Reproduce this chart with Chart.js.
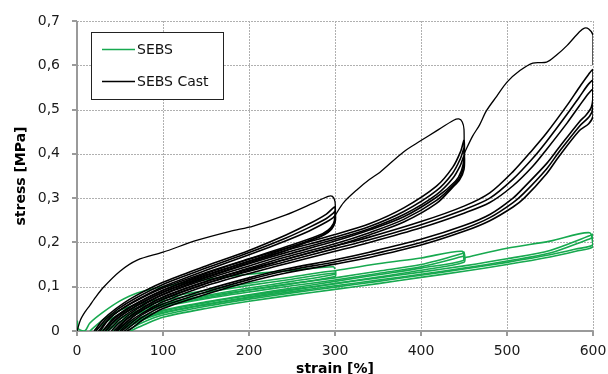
<!DOCTYPE html>
<html>
<head>
<meta charset="utf-8">
<script src="https://cdn.jsdelivr.net/npm/chart.js@4.4.1/dist/chart.umd.min.js"></script>
<style>
    html, body { margin: 0; padding: 0; background: #fff; }
    #wrap { width: 608px; height: 374px; }
</style>
</head>
<body>
<div id="wrap"><canvas id="chart-area" width="608" height="374"></canvas></div>
<script>
// strain [%], stress [MPa]
var xTicks = [0, 100, 200, 300, 400, 500, 600];
var yTicks = [0, 0.1, 0.2, 0.3, 0.4, 0.5, 0.6, 0.7];
var yTickLabels = ['0', '0,1', '0,2', '0,3', '0,4', '0,5', '0,6', '0,7'];
var seriesNames = ['SEBS', 'SEBS Cast'];

// SEBS Cast: first loadings up to 300, 450, 600 %
var castFirst300 = [[0, 0], [4, 0.025], [10, 0.045], [15, 0.058], [20, 0.072], [30, 0.097], [50, 0.135], [70, 0.16], [100, 0.178], [140, 0.205], [178, 0.225], [205, 0.237], [243, 0.262], [274, 0.288], [292, 0.304], [297, 0.304], [300, 0.292], [300.5, 0.255]];
var castFirst450 = [[300.5, 0.262], [310, 0.29], [325, 0.318], [340, 0.342], [352, 0.358], [380, 0.405], [400, 0.43], [418, 0.452], [438, 0.476], [444, 0.479], [448, 0.472], [450, 0.455], [450, 0.40]];
var castFirst600 = [[450, 0.40], [460, 0.44], [468, 0.465], [476, 0.497], [488, 0.53], [500, 0.562], [515, 0.588], [530, 0.605], [546, 0.607], [557, 0.622], [570, 0.645], [584, 0.675], [590, 0.684], [595, 0.682], [600, 0.668], [600, 0.6]];

// SEBS Cast: cycles (reload then unload)
var castLoop300a = [[20, 0], [30, 0.025], [45, 0.05], [65, 0.076], [100, 0.11], [150, 0.147], [200, 0.182], [243, 0.217], [270, 0.242], [290, 0.264], [298, 0.278], [300, 0.28], [300, 0.258], [298, 0.242], [292, 0.228], [280, 0.215], [243, 0.19], [200, 0.163], [150, 0.132], [100, 0.097], [65, 0.064], [40, 0.033], [27, 0]];
var castLoop300b = [[22, 0], [33, 0.025], [48, 0.05], [68, 0.074], [100, 0.105], [150, 0.142], [200, 0.177], [243, 0.21], [270, 0.234], [290, 0.254], [298, 0.266], [300, 0.27], [300, 0.25], [297, 0.235], [290, 0.222], [278, 0.21], [243, 0.186], [200, 0.158], [150, 0.127], [100, 0.092], [65, 0.058], [42, 0.028], [30, 0]];
var castLoop300c = [[25, 0], [36, 0.025], [52, 0.05], [72, 0.073], [100, 0.1], [150, 0.137], [200, 0.172], [243, 0.204], [270, 0.226], [290, 0.246], [298, 0.256], [300, 0.26], [300, 0.245], [296, 0.23], [288, 0.218], [275, 0.207], [243, 0.182], [200, 0.154], [150, 0.122], [100, 0.087], [68, 0.055], [45, 0.025], [33, 0]];
var castLoop450a = [[30, 0], [45, 0.03], [65, 0.057], [100, 0.092], [150, 0.13], [200, 0.162], [243, 0.187], [300, 0.218], [340, 0.242], [380, 0.278], [418, 0.327], [437, 0.37], [446, 0.405], [450, 0.43], [450, 0.39], [447, 0.362], [440, 0.338], [418, 0.302], [380, 0.258], [340, 0.228], [300, 0.203], [243, 0.172], [200, 0.147], [150, 0.117], [100, 0.082], [70, 0.05], [50, 0.02], [40, 0]];
var castLoop450b = [[33, 0], [48, 0.03], [68, 0.056], [100, 0.088], [150, 0.125], [200, 0.157], [243, 0.182], [300, 0.212], [340, 0.236], [380, 0.27], [418, 0.317], [437, 0.357], [446, 0.39], [450, 0.412], [450, 0.378], [446, 0.35], [438, 0.33], [418, 0.295], [380, 0.252], [340, 0.222], [300, 0.197], [243, 0.167], [200, 0.142], [150, 0.112], [100, 0.077], [70, 0.045], [52, 0.018], [43, 0]];
var castLoop450c = [[36, 0], [52, 0.03], [72, 0.055], [100, 0.083], [150, 0.12], [200, 0.152], [243, 0.177], [300, 0.207], [340, 0.231], [380, 0.263], [418, 0.308], [437, 0.345], [446, 0.375], [450, 0.395], [450, 0.365], [445, 0.342], [437, 0.325], [418, 0.288], [380, 0.246], [340, 0.217], [300, 0.192], [243, 0.162], [200, 0.137], [150, 0.107], [100, 0.072], [72, 0.042], [55, 0.015], [46, 0]];
var castLoop600a = [[45, 0], [60, 0.03], [80, 0.056], [100, 0.076], [150, 0.112], [200, 0.14], [243, 0.162], [300, 0.192], [340, 0.212], [400, 0.247], [450, 0.282], [480, 0.312], [507, 0.36], [530, 0.41], [546, 0.447], [570, 0.51], [584, 0.55], [595, 0.58], [600, 0.59], [600, 0.53], [598, 0.505], [592, 0.488], [584, 0.472], [560, 0.413], [546, 0.378], [520, 0.325], [507, 0.3], [480, 0.263], [450, 0.238], [400, 0.207], [340, 0.178], [300, 0.161], [243, 0.14], [200, 0.12], [150, 0.093], [100, 0.061], [75, 0.036], [58, 0.01], [52, 0]];
var castLoop600b = [[47, 0], [62, 0.028], [80, 0.051], [100, 0.071], [150, 0.107], [200, 0.135], [243, 0.157], [300, 0.186], [340, 0.206], [400, 0.24], [450, 0.274], [480, 0.3], [507, 0.343], [530, 0.39], [546, 0.428], [570, 0.49], [584, 0.528], [595, 0.558], [600, 0.565], [600, 0.505], [596, 0.485], [584, 0.462], [560, 0.403], [546, 0.366], [520, 0.312], [507, 0.29], [480, 0.256], [450, 0.231], [400, 0.2], [340, 0.172], [300, 0.156], [243, 0.136], [200, 0.116], [150, 0.088], [100, 0.056], [76, 0.031], [60, 0.007], [55, 0]];
var castLoop600c = [[50, 0], [64, 0.025], [82, 0.047], [100, 0.066], [150, 0.102], [200, 0.13], [243, 0.152], [300, 0.18], [340, 0.2], [400, 0.233], [450, 0.266], [480, 0.29], [507, 0.328], [530, 0.372], [546, 0.41], [570, 0.47], [584, 0.508], [595, 0.537], [600, 0.545], [600, 0.485], [595, 0.468], [584, 0.452], [560, 0.393], [546, 0.355], [520, 0.3], [507, 0.28], [480, 0.249], [450, 0.225], [400, 0.194], [340, 0.166], [300, 0.151], [243, 0.131], [200, 0.111], [150, 0.083], [100, 0.051], [78, 0.027], [62, 0.004], [58, 0]];

// SEBS: first loadings
var sebsFirst300 = [[0, 0], [0.5, 0.022], [1.5, 0.005], [9, 0], [15, 0.018], [30, 0.042], [50, 0.068], [70, 0.086], [100, 0.1], [150, 0.116], [200, 0.128], [250, 0.137], [298, 0.145], [300, 0.14]];
var sebsFirst450 = [[300, 0.136], [350, 0.152], [400, 0.165], [448, 0.18], [450, 0.16]];
var sebsFirst600 = [[450, 0.165], [500, 0.187], [550, 0.203], [596, 0.222], [600, 0.195]];

// SEBS: cycles
var sebsLoop300a = [[15, 0], [30, 0.025], [50, 0.047], [70, 0.06], [100, 0.074], [150, 0.092], [200, 0.108], [250, 0.122], [300, 0.136], [300, 0.128], [250, 0.112], [200, 0.097], [150, 0.08], [100, 0.062], [70, 0.045], [45, 0.022], [28, 0]];
var sebsLoop300b = [[20, 0], [35, 0.022], [55, 0.043], [75, 0.055], [100, 0.068], [150, 0.087], [200, 0.103], [250, 0.117], [300, 0.131], [300, 0.123], [250, 0.107], [200, 0.092], [150, 0.075], [100, 0.057], [70, 0.04], [48, 0.018], [32, 0]];
var sebsLoop450a = [[30, 0], [50, 0.028], [75, 0.048], [100, 0.06], [150, 0.078], [200, 0.093], [250, 0.107], [300, 0.12], [350, 0.135], [400, 0.15], [448, 0.175], [450, 0.178], [450, 0.16], [400, 0.142], [350, 0.127], [300, 0.112], [250, 0.097], [200, 0.082], [150, 0.066], [100, 0.047], [70, 0.028], [50, 0.01], [42, 0]];
var sebsLoop450b = [[35, 0], [55, 0.026], [78, 0.044], [100, 0.055], [150, 0.073], [200, 0.088], [250, 0.102], [300, 0.115], [350, 0.13], [400, 0.145], [448, 0.168], [450, 0.17], [450, 0.155], [400, 0.137], [350, 0.122], [300, 0.107], [250, 0.092], [200, 0.077], [150, 0.061], [100, 0.042], [72, 0.024], [52, 0.006], [47, 0]];
var sebsLoop600a = [[45, 0], [65, 0.022], [100, 0.045], [150, 0.064], [200, 0.08], [250, 0.094], [300, 0.107], [350, 0.12], [400, 0.133], [450, 0.147], [500, 0.163], [550, 0.182], [596, 0.215], [600, 0.218], [600, 0.195], [580, 0.185], [550, 0.172], [500, 0.155], [450, 0.14], [400, 0.126], [350, 0.112], [300, 0.099], [250, 0.086], [200, 0.072], [150, 0.056], [100, 0.036], [75, 0.018], [58, 0]];
var sebsLoop600b = [[50, 0], [70, 0.02], [100, 0.04], [150, 0.059], [200, 0.075], [250, 0.089], [300, 0.102], [350, 0.115], [400, 0.128], [450, 0.142], [500, 0.158], [550, 0.176], [596, 0.208], [600, 0.21], [600, 0.19], [580, 0.18], [550, 0.167], [500, 0.15], [450, 0.135], [400, 0.121], [350, 0.107], [300, 0.094], [250, 0.081], [200, 0.067], [150, 0.051], [100, 0.031], [78, 0.014], [62, 0]];

var castCurves = [castFirst300, castFirst450, castFirst600, castLoop300a, castLoop300b, castLoop300c, castLoop450a, castLoop450b, castLoop450c, castLoop600a, castLoop600b, castLoop600c];
var sebsCurves = [sebsFirst300, sebsFirst450, sebsFirst600, sebsLoop300a, sebsLoop300b, sebsLoop450a, sebsLoop450b, sebsLoop600a, sebsLoop600b];

var GREEN = '#17a94f';
var BLACK = '#000000';
var GRID = '#b0b0b0';
var AXIS = '#9a9a9a';

function toPoints(arr) {
    return arr.map(function (p) {
        return {x: p[0], y: p[1]};
    });
}

var datasets = [];
// black on top -> listed first
castCurves.forEach(function (c, i) {
    datasets.push({
        label: seriesNames[1],
        data: toPoints(c),
        borderColor: BLACK,
        borderWidth: i < 3 ? 1.3 : 1.6,
        showLine: true,
        pointRadius: 0,
        tension: 0.3,
        fill: false
    });
});
sebsCurves.forEach(function (c) {
    datasets.push({
        label: seriesNames[0],
        data: toPoints(c),
        borderColor: GREEN,
        borderWidth: 1.6,
        showLine: true,
        pointRadius: 0,
        tension: 0.3,
        fill: false
    });
});

// dotted grid (drawn as small dots), tick marks and grey axis lines, placed with the chart's scales
var axesFrame = {
    id: 'axesFrame',
    beforeDatasetsDraw: function (chart) {
        var ctx = chart.ctx;
        var a = chart.chartArea;
        var sx = chart.scales.x, sy = chart.scales.y;
        var top = Math.round(a.top), bottom = Math.round(a.bottom);
        var left = Math.round(a.left), right = Math.round(a.right);
        var k;
        ctx.save();
        ctx.fillStyle = GRID;
        xTicks.forEach(function (v) {
            if (v === xTicks[0]) return;
            var px = Math.round(sx.getPixelForValue(v));
            for (k = top; k < bottom; k += 3) {
                ctx.fillRect(px, k, 1, 2);
            }
        });
        yTicks.forEach(function (v) {
            if (v === yTicks[0]) return;
            var py = Math.round(sy.getPixelForValue(v));
            for (k = left; k < right; k += 3) {
                ctx.fillRect(k, py, 2, 1);
            }
        });
        ctx.fillStyle = AXIS;
        xTicks.forEach(function (v) {
            var px = Math.round(sx.getPixelForValue(v));
            ctx.fillRect(px - 1, bottom, 2, 5);
        });
        yTicks.forEach(function (v) {
            var py = Math.round(sy.getPixelForValue(v));
            ctx.fillRect(left - 5, py - 1, 5, 2);
        });
        ctx.fillRect(left - 1, top, 2, bottom - top + 1);
        ctx.fillRect(left - 1, bottom - 1, right - left + 1, 2);
        ctx.restore();
    }
};

// boxed legend inside the plot, like the excel one
var boxLegend = {
    id: 'boxLegend',
    afterDraw: function (chart) {
        var ctx = chart.ctx;
        var x = 91, y = 32, w = 132, h = 67;
        ctx.save();
        ctx.fillStyle = '#fff';
        ctx.fillRect(x, y, w, h);
        ctx.strokeStyle = '#222';
        ctx.lineWidth = 1;
        ctx.strokeRect(x + 0.5, y + 0.5, w, h);
        var rows = [[seriesNames[0], GREEN, 49], [seriesNames[1], BLACK, 81]];
        ctx.font = '14px "DejaVu Sans"';
        ctx.textBaseline = 'middle';
        rows.forEach(function (r) {
            ctx.strokeStyle = r[1];
            ctx.lineWidth = 1.5;
            ctx.beginPath();
            ctx.moveTo(102, r[2] + 0.5);
            ctx.lineTo(135, r[2] + 0.5);
            ctx.stroke();
            ctx.fillStyle = '#111';
            ctx.fillText(r[0], 137, r[2] + 1);
        });
        ctx.restore();
    }
};

var config = {
    type: 'scatter',
    data: {datasets: datasets},
    options: {
        responsive: false,
        animation: false,
        layout: {padding: {top: 21, right: 15, bottom: 0, left: 0}},
        plugins: {
            legend: {display: false},
            tooltip: {enabled: false}
        },
        scales: {
            x: {
                type: 'linear',
                min: xTicks[0],
                max: xTicks[xTicks.length - 1],
                afterBuildTicks: function (s) {
                    s.ticks = xTicks.map(function (v) { return {value: v}; });
                },
                afterFit: function (s) {
                    s.height = 43;
                    s.paddingLeft = 0;
                    s.paddingRight = 0;
                },
                ticks: {
                    color: '#1a1a1a',
                    font: {family: 'DejaVu Sans', size: 14},
                    padding: 7,
                    maxRotation: 0
                },
                grid: {display: false, drawTicks: true, tickLength: 5},
                border: {display: false},
                title: {
                    display: true,
                    text: 'strain [%]',
                    color: '#000',
                    font: {family: 'DejaVu Sans', size: 14, weight: 'bold'},
                    padding: {top: 0, bottom: -4}
                }
            },
            y: {
                min: yTicks[0],
                max: yTicks[yTicks.length - 1],
                afterBuildTicks: function (s) {
                    s.ticks = yTicks.map(function (v) { return {value: v}; });
                },
                afterFit: function (s) { s.width = 77; },
                ticks: {
                    color: '#1a1a1a',
                    font: {family: 'DejaVu Sans', size: 14},
                    padding: 12,
                    callback: function (v, i) { return yTickLabels[i]; }
                },
                grid: {display: false, drawTicks: true, tickLength: 5},
                border: {display: false},
                title: {
                    display: true,
                    text: 'stress [MPa]',
                    color: '#000',
                    font: {family: 'DejaVu Sans', size: 14, weight: 'bold'},
                    padding: {top: 13, bottom: 0}
                }
            }
        }
    },
    plugins: [axesFrame, boxLegend]
};

var myChart = new Chart(document.getElementById('chart-area').getContext('2d'), config);
</script>
</body>
</html>
